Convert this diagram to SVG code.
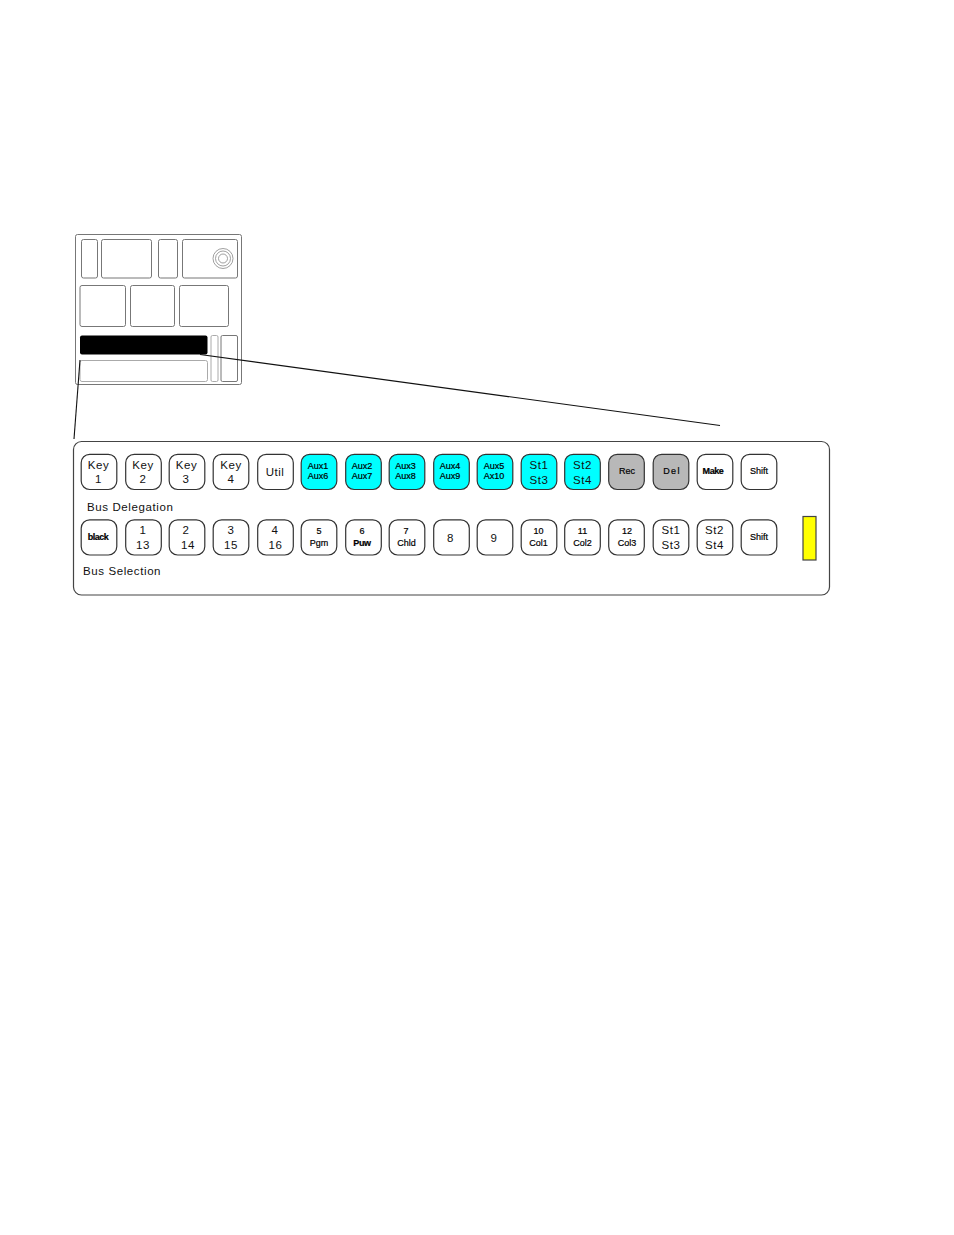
<svg xmlns="http://www.w3.org/2000/svg" width="954" height="1235" viewBox="0 0 954 1235">
<style>
text{font-family:"Liberation Sans",Arial,sans-serif;fill:#111;text-anchor:middle}
.b{fill:#fff;stroke:#333;stroke-width:1.2}
.c{fill:#0ff}.g{fill:#b8b8b8}
.l{font-size:11.5px;letter-spacing:.5px}
.s{font-size:9px;fill:#000;stroke:#000;stroke-width:.2px;transform:translateY(-.7px)}
.lab{font-size:11.5px;letter-spacing:.6px;text-anchor:start}
.p{fill:#fff;stroke:#777;stroke-width:1}
.q{fill:#fff;stroke:#aaa;stroke-width:1}
.ln{stroke:#111;stroke-width:1.1;fill:none}
</style>
<defs><rect id="k" x="-.3" y="-.2" width="35.6" height="35.2" rx="8.500"/></defs>
<g id="panel-overview">
<rect class="p" x="75.500" y="234.500" width="166" height="150" rx="2"/>
<rect class="p" x="81.500" y="239.500" width="16" height="38.500" rx="2"/>
<rect class="p" x="101.500" y="239.500" width="50" height="38.500" rx="2"/>
<rect class="p" x="158.500" y="239.500" width="19" height="38.500" rx="2"/>
<rect class="p" x="182.500" y="239.500" width="55" height="38.500" rx="2"/>
<circle cx="223" cy="258.500" r="10" fill="none" stroke="#888" stroke-width=".8"/>
<circle cx="223" cy="258.500" r="7.500" fill="none" stroke="#888" stroke-width=".8"/>
<circle cx="223" cy="258.500" r="4.500" fill="none" stroke="#888" stroke-width=".8"/>
<rect class="p" x="80" y="285.500" width="45.500" height="41" rx="2"/>
<rect class="p" x="130.500" y="285.500" width="44" height="41" rx="2"/>
<rect class="p" x="179.500" y="285.500" width="49" height="41" rx="2"/>
<rect x="80" y="335.500" width="127.500" height="19" rx="2" fill="#000"/>
<rect class="q" x="80" y="360.500" width="127.500" height="21" rx="2"/>
<rect class="q" x="211" y="335.500" width="7" height="46" rx="1.500"/>
<rect class="p" x="221" y="335.500" width="16.500" height="46" rx="1.500"/>
</g>
<g id="connectors">
<path class="ln" d="M200 354.500L720 425.500"/>
<path class="ln" d="M80 360L74 439"/>
</g>
<g id="detail-panel">
<rect x="73.500" y="441.500" width="756" height="153.500" rx="8" fill="#fff" stroke="#444" stroke-width="1.200"/>
<rect x="803" y="516.500" width="13" height="43.500" fill="#ff0" stroke="#444" stroke-width="1.200"/>
<text class="lab" x="87" y="511">Bus Delegation</text>
<text class="lab" x="83" y="575">Bus Selection</text>
</g>
<g id="row-delegation">
<g id="d1"><use href="#k" class="b" x="81.500" y="454.500"/><text class="l" x="98.500" y="468.500">Key</text><text class="l" x="98.500" y="483">1</text></g>
<g id="d2"><use href="#k" class="b" x="126" y="454.500"/><text class="l" x="143" y="468.500">Key</text><text class="l" x="143" y="483">2</text></g>
<g id="d3"><use href="#k" class="b" x="169.500" y="454.500"/><text class="l" x="186.500" y="468.500">Key</text><text class="l" x="186" y="483">3</text></g>
<g id="d4"><use href="#k" class="b" x="213.500" y="454.500"/><text class="l" x="231" y="468.500">Key</text><text class="l" x="231" y="483">4</text></g>
<g id="d5"><use href="#k" class="b" x="258" y="454.500"/><text class="l" x="275" y="475.500">Util</text></g>
<g id="d6"><use href="#k" class="b c" x="301.500" y="454.500"/><text class="s" x="318" y="469.500">Aux1</text><text class="s" x="318" y="480">Aux6</text></g>
<g id="d7"><use href="#k" class="b c" x="346" y="454.500"/><text class="s" x="362" y="469.500">Aux2</text><text class="s" x="362" y="480">Aux7</text></g>
<g id="d8"><use href="#k" class="b c" x="389.500" y="454.500"/><text class="s" x="405.500" y="469.500">Aux3</text><text class="s" x="405.500" y="480">Aux8</text></g>
<g id="d9"><use href="#k" class="b c" x="434" y="454.500"/><text class="s" x="450" y="469.500">Aux4</text><text class="s" x="450" y="480">Aux9</text></g>
<g id="d10"><use href="#k" class="b c" x="477.500" y="454.500"/><text class="s" x="494" y="469.500">Aux5</text><text class="s" x="494" y="480">Ax10</text></g>
<g id="d11"><use href="#k" class="b c" x="521.500" y="454.500"/><text class="l" x="539" y="468.500">St1</text><text class="l" x="539" y="483.500">St3</text></g>
<g id="d12"><use href="#k" class="b c" x="565" y="454.500"/><text class="l" x="582.500" y="468.500">St2</text><text class="l" x="582.500" y="483.500">St4</text></g>
<g id="d13"><use href="#k" class="b g" x="609" y="454.500"/><text class="s" x="627" y="475">Rec</text></g>
<g id="d14"><use href="#k" class="b g" x="653.500" y="454.500"/><text class="s" x="672" y="475" style="letter-spacing:1.300px">Del</text></g>
<g id="d15"><use href="#k" class="b" x="697.500" y="454.500"/><text class="s" x="713" y="475" style="font-weight:bold;letter-spacing:-.4px">Make</text></g>
<g id="d16"><use href="#k" class="b" x="741.500" y="454.500"/><text class="s" x="759" y="475">Shift</text></g>
</g>
<g id="row-selection">
<g id="s1"><use href="#k" class="b" x="81.500" y="520"/><text class="s" x="98" y="540.500" style="font-weight:bold;letter-spacing:-.5px">black</text></g>
<g id="s2"><use href="#k" class="b" x="126" y="520"/><text class="l" x="143" y="534">1</text><text class="l" x="143" y="549">13</text></g>
<g id="s3"><use href="#k" class="b" x="169.500" y="520"/><text class="l" x="186" y="534">2</text><text class="l" x="188" y="549">14</text></g>
<g id="s4"><use href="#k" class="b" x="213.500" y="520"/><text class="l" x="231" y="534">3</text><text class="l" x="231" y="549">15</text></g>
<g id="s5"><use href="#k" class="b" x="258" y="520"/><text class="l" x="275" y="534">4</text><text class="l" x="275.500" y="549">16</text></g>
<g id="s6"><use href="#k" class="b" x="301.500" y="520"/><text class="s" x="319" y="535">5</text><text class="s" x="319" y="547">Pgm</text></g>
<g id="s7"><use href="#k" class="b" x="346" y="520"/><text class="s" x="362" y="535">6</text><text class="s" x="362" y="547" style="font-weight:bold;letter-spacing:-.4px">Puw</text></g>
<g id="s8"><use href="#k" class="b" x="389.500" y="520"/><text class="s" x="406" y="535">7</text><text class="s" x="406.500" y="547">Chld</text></g>
<g id="s9"><use href="#k" class="b" x="434" y="520"/><text class="l" x="450.500" y="541.500">8</text></g>
<g id="s10"><use href="#k" class="b" x="477.500" y="520"/><text class="l" x="494" y="541.500">9</text></g>
<g id="s11"><use href="#k" class="b" x="521.500" y="520"/><text class="s" x="538.500" y="535">10</text><text class="s" x="538.500" y="547">Col1</text></g>
<g id="s12"><use href="#k" class="b" x="565" y="520"/><text class="s" x="582.500" y="535">11</text><text class="s" x="582.500" y="547">Col2</text></g>
<g id="s13"><use href="#k" class="b" x="609" y="520"/><text class="s" x="627" y="535">12</text><text class="s" x="627" y="547">Col3</text></g>
<g id="s14"><use href="#k" class="b" x="653.500" y="520"/><text class="l" x="671" y="534">St1</text><text class="l" x="671" y="549">St3</text></g>
<g id="s15"><use href="#k" class="b" x="697.500" y="520"/><text class="l" x="714.500" y="534">St2</text><text class="l" x="714.500" y="549">St4</text></g>
<g id="s16"><use href="#k" class="b" x="741.500" y="520"/><text class="s" x="759" y="541">Shift</text></g>
</g>
</svg>
